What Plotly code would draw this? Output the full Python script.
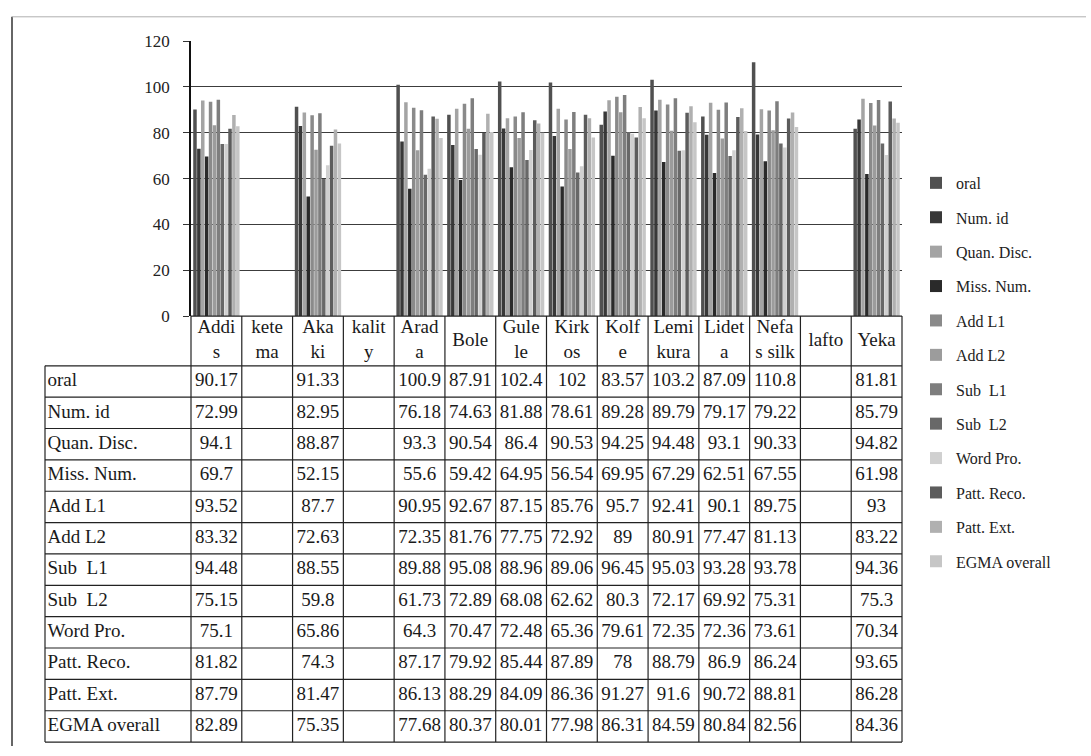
import plotly.graph_objects as go

# ---- data -------------------------------------------------------------
categories = ["Addis", "ketema", "Akaki", "kality", "Arada", "Bole", "Gulele",
              "Kirkos", "Kolfe", "Lemi kura", "Lideta", "Nefas silk", "lafto", "Yeka"]
category_labels = ["Addi<br>s", "kete<br>ma", "Aka<br>ki", "kalit<br>y", "Arad<br>a", "Bole",
                   "Gule<br>le", "Kirk<br>os", "Kolf<br>e", "Lemi<br>kura", "Lidet<br>a",
                   "Nefa<br>s silk", "lafto", "Yeka"]

series_names = ["oral", "Num. id", "Quan. Disc.", "Miss. Num.", "Add L1", "Add L2",
                "Sub  L1", "Sub  L2", "Word Pro.", "Patt. Reco.", "Patt. Ext.", "EGMA overall"]

oral         = [90.17, None, 91.33, None, 100.98, 87.91, 102.4, 102, 83.57, 103.2, 87.09, 110.8, None, 81.81]
num_id       = [72.99, None, 82.95, None, 76.18, 74.63, 81.88, 78.61, 89.28, 89.79, 79.17, 79.22, None, 85.79]
quan_disc    = [94.1, None, 88.87, None, 93.3, 90.54, 86.4, 90.53, 94.25, 94.48, 93.1, 90.33, None, 94.82]
miss_num     = [69.7, None, 52.15, None, 55.6, 59.42, 64.95, 56.54, 69.95, 67.29, 62.51, 67.55, None, 61.98]
add_l1       = [93.52, None, 87.7, None, 90.95, 92.67, 87.15, 85.76, 95.7, 92.41, 90.1, 89.75, None, 93]
add_l2       = [83.32, None, 72.63, None, 72.35, 81.76, 77.75, 72.92, 89, 80.91, 77.47, 81.13, None, 83.22]
sub_l1       = [94.48, None, 88.55, None, 89.88, 95.08, 88.96, 89.06, 96.45, 95.03, 93.28, 93.78, None, 94.36]
sub_l2       = [75.15, None, 59.8, None, 61.73, 72.89, 68.08, 62.62, 80.3, 72.17, 69.92, 75.31, None, 75.3]
word_pro     = [75.1, None, 65.86, None, 64.3, 70.47, 72.48, 65.36, 79.61, 72.35, 72.36, 73.61, None, 70.34]
patt_reco    = [81.82, None, 74.3, None, 87.17, 79.92, 85.44, 87.89, 78, 88.79, 86.9, 86.24, None, 93.65]
patt_ext     = [87.79, None, 81.47, None, 86.13, 88.29, 84.09, 86.36, 91.27, 91.6, 90.72, 88.81, None, 86.28]
egma_overall = [82.89, None, 75.35, None, 77.68, 80.37, 80.01, 77.98, 86.31, 84.59, 80.84, 82.56, None, 84.36]

series_values = [oral, num_id, quan_disc, miss_num, add_l1, add_l2,
                 sub_l1, sub_l2, word_pro, patt_reco, patt_ext, egma_overall]

y_ticks = [0, 20, 40, 60, 80, 100, 120]

# ---- styling ------------------------------------------------------------
bar_colors = ["#505050", "#383838", "#a4a4a4", "#2a2a2a", "#8a8a8a", "#9c9c9c",
              "#7e7e7e", "#686868", "#d0d0d0", "#5c5c5c", "#b0b0b0", "#c6c6c6"]
SERIF = "Liberation Serif, Times New Roman, serif"
INK = "#1a1a1a"
TABLE_FONT = 19

W, H = 1091, 756
PLOT_L, PLOT_R = 191, 902      # chart area, pixels
PLOT_T, PLOT_B = 33, 315
TABLE_L, TABLE_B = 45, 752     # data table extent
HEADER_H = 51                  # category-label row height
PAD = 2


def fx(p):
    return p / W


def fy(p):
    return 1 - p / H


n_cat = len(categories)
n_rows = len(series_names)
col_w = (PLOT_R - PLOT_L) / n_cat
label_units = (PLOT_L - TABLE_L) / col_w
row_h = (TABLE_B - PLOT_B - HEADER_H) / n_rows
header_units = HEADER_H / row_h
x_left = -0.5 - label_units
x_right = n_cat - 0.5

idx = list(range(n_cat))
fig = go.Figure()

# grouped bars
for name, vals, col in zip(series_names, series_values, bar_colors):
    fig.add_trace(go.Bar(
        x=idx, y=vals, name=name, legendgroup=name,
        marker=dict(color=col, line=dict(width=0)),
        xaxis="x", yaxis="y",
    ))

# data table: category header row
fig.add_trace(go.Scatter(
    x=idx, y=[-header_units / 2] * n_cat, text=category_labels, mode="text",
    textposition="middle center", textfont=dict(family=SERIF, size=TABLE_FONT, color=INK),
    xaxis="x2", yaxis="y2", showlegend=False, hoverinfo="skip", cliponaxis=False,
))

# data table: one row per series
for r, (name, vals) in enumerate(zip(series_names, series_values)):
    xs = [i for i, v in zip(idx, vals) if v is not None]
    txt = [f"{v:g}"[:5] for v in vals if v is not None]
    fig.add_trace(go.Scatter(
        x=xs, y=[r + 0.5] * len(xs), text=txt, mode="text",
        textposition="middle center", textfont=dict(family=SERIF, size=TABLE_FONT, color=INK),
        xaxis="x2", yaxis="y2", showlegend=False, hoverinfo="skip", cliponaxis=False,
    ))

fig.add_trace(go.Scatter(
    x=[x_left + 0.05] * n_rows, y=[r + 0.5 for r in range(n_rows)], text=series_names,
    mode="text", textposition="middle right",
    textfont=dict(family=SERIF, size=TABLE_FONT, color=INK),
    xaxis="x2", yaxis="y2", showlegend=False, hoverinfo="skip", cliponaxis=False,
))

# table cell borders
line = dict(color="#222222", width=1.2)
shapes = []
shapes.append(dict(type="line", xref="x2", yref="y2", x0=-0.5, x1=x_right,
                   y0=-header_units, y1=-header_units, line=line))
for r in range(n_rows + 1):
    shapes.append(dict(type="line", xref="x2", yref="y2", x0=x_left, x1=x_right,
                       y0=r, y1=r, line=line))
shapes.append(dict(type="line", xref="x2", yref="y2", x0=x_left, x1=x_left,
                   y0=0, y1=n_rows, line=line))
for k in range(n_cat + 1):
    shapes.append(dict(type="line", xref="x2", yref="y2", x0=k - 0.5, x1=k - 0.5,
                       y0=-header_units, y1=n_rows, line=line))

# outer frame edges
shapes.append(dict(type="line", xref="paper", yref="paper", x0=fx(12), x1=fx(12),
                   y0=fy(8), y1=fy(756), line=dict(color="#333333", width=1.5)))
shapes.append(dict(type="line", xref="paper", yref="paper", x0=fx(12), x1=fx(1086),
                   y0=fy(8), y1=fy(8), line=dict(color="#b0b0b0", width=1)))

fig.update_layout(
    width=W, height=H,
    margin=dict(l=0, r=0, t=0, b=0),
    paper_bgcolor="white", plot_bgcolor="rgba(0,0,0,0)",
    barmode="group", bargap=0.08, bargroupgap=0.1,
    font=dict(family=SERIF, color=INK),
    showlegend=True,
    legend=dict(
        x=fx(916), y=fy(161), xanchor="left", yanchor="top",
        font=dict(family=SERIF, size=16, color="#222222"),
        tracegroupgap=10.6, itemwidth=30, bgcolor="rgba(0,0,0,0)",
    ),
    xaxis=dict(
        domain=[fx(PLOT_L), fx(PLOT_R)], range=[-0.5, n_cat - 0.5],
        showticklabels=False, ticks="", showgrid=False, zeroline=False, showline=False,
        fixedrange=True,
    ),
    yaxis=dict(
        domain=[fy(PLOT_B), fy(PLOT_T)], range=[0, 120], tickvals=y_ticks,
        showgrid=True, gridcolor="#3c3c3c", gridwidth=1.2, zeroline=False,
        showline=True, linecolor="#111111", linewidth=1.5,
        ticks="outside", ticklen=6, tickcolor="#333333",
        tickfont=dict(family=SERIF, size=17, color="#222222"), ticklabelstandoff=10,
        fixedrange=True,
    ),
    xaxis2=dict(
        domain=[fx(TABLE_L - PAD), fx(PLOT_R + PAD)],
        range=[x_left - PAD / col_w, x_right + PAD / col_w],
        visible=False, fixedrange=True,
    ),
    yaxis2=dict(
        domain=[fy(TABLE_B + PAD), fy(PLOT_B - PAD)],
        range=[n_rows + PAD / row_h, -header_units - PAD / row_h],
        visible=False, fixedrange=True,
    ),
    shapes=shapes,
)

fig.write_html("out.html")
